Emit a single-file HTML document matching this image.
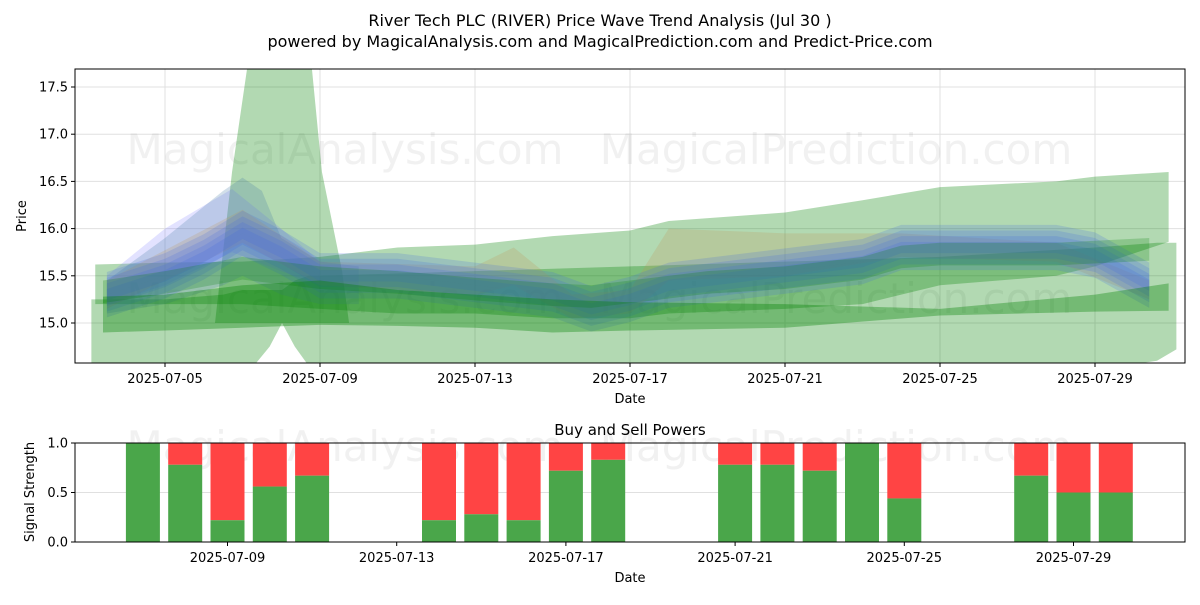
<!DOCTYPE html>
<html><head><meta charset="utf-8"><style>
body{margin:0;background:#fff;}
svg text{font-family:"DejaVu Sans","Liberation Sans",sans-serif;}
</style></head><body>
<svg id="c" width="1200" height="600" xmlns="http://www.w3.org/2000/svg">
<rect width="1200" height="600" fill="#fff"/>
<text x="600" y="26" font-size="16" text-anchor="middle">River Tech PLC (RIVER) Price Wave Trend Analysis (Jul 30 )</text>
<text x="600" y="47" font-size="16" text-anchor="middle">powered by MagicalAnalysis.com and MagicalPrediction.com and Predict-Price.com</text>
<g id="topg"></g>
<g id="botg"></g>
</svg>
<script>
const NS="http://www.w3.org/2000/svg";
// ---- top chart data ----
const priceTicks=[15.0,15.5,16.0,16.5,17.0,17.5];
const dateTickDays=[5,9,13,17,21,25,29];
const dateTickLabels=["2025-07-05","2025-07-09","2025-07-13","2025-07-17","2025-07-21","2025-07-25","2025-07-29"];
const outerDays=[3.2,5,7,9,11,13,15,17,18,21,23,24,25,28,29,30.9];
const outerHi=[15.62,15.64,15.65,15.7,15.8,15.83,15.92,15.98,16.08,16.17,16.3,16.37,16.44,16.5,16.55,16.6];
const outerLo=[15.2,15.2,15.2,15.15,15.1,15.1,15.05,15.05,15.1,15.15,15.2,15.3,15.4,15.5,15.6,15.86];
const lowerADays=[3.1,5,6.5,7.0,7.3,7.7,8.02];
const lowerAHi=[15.25,15.25,15.3,15.35,15.35,15.35,15.35];
const lowerALo=[14.3,14.35,14.4,14.45,14.55,14.75,15.0];
const lowerBDays=[8.02,8.35,8.7,9,13,17,21,25,29,30.6,31.1];
const lowerBHi=[15.35,15.45,15.5,15.5,15.55,15.6,15.65,15.7,15.8,15.85,15.85];
const lowerBLo=[15.0,14.75,14.55,14.45,14.45,14.45,14.45,14.45,14.5,14.6,14.72];
const spikeDays=[6.29,6.73,7.12,7.6,8.3,8.79,9.05,9.57,9.75];
const spikeHi=[15.0,16.6,17.7,18.0,18.0,17.7,16.6,15.55,15.0];
const spikeLo=[15.0,15.0,15.0,15.0,15.0,15.0,15.0,15.0,15.0];
const wideDays=[3.5,5,6.5,7,7.5,8,9,10];
const wideHi=[15.45,15.9,16.4,16.54,16.4,15.9,15.65,15.6];
const wideLo=[15.1,15.2,15.4,15.5,15.4,15.3,15.2,15.2];
const blueDays=[3.5,5,6,7,8,9,11,13,14,15,16,17,18,21,23,24,25,26,28,29,30.4];
const blueMid=[15.3,15.5,15.7,15.95,15.75,15.5,15.5,15.4,15.35,15.3,15.15,15.25,15.4,15.55,15.65,15.8,15.8,15.8,15.8,15.72,15.4];
const blueOffsets=[-0.12,-0.06,0,0.06,0.12];
const purpleDays=[3.5,5,6.73,8,9];
const purpleHi=[15.5,16.0,16.42,16.0,15.65];
const purpleLo=[15.2,15.4,15.75,15.55,15.4];
const tanDays=[3.5,7,9,13,14,15.5,17,18,21,24,28,30.4];
const tanHi=[15.45,16.2,15.65,15.6,15.8,15.3,15.35,16.0,15.95,15.95,15.85,15.45];
const tanLo=[15.15,15.85,15.4,15.3,15.4,15.05,15.1,15.45,15.5,15.7,15.65,15.25];
const greenDays=[3.4,5,7,9,11,13,15,16,17,19,21,23,24,25,28,30.4];
const greenMid=[15.35,15.45,15.6,15.5,15.45,15.38,15.32,15.3,15.35,15.45,15.5,15.6,15.72,15.75,15.75,15.8];
const green2Days=[3.4,5,7,9,11,13,15,17,21,25,29,30.9];
const green2Hi=[15.28,15.3,15.4,15.45,15.35,15.3,15.25,15.22,15.2,15.15,15.3,15.42];
const green2Lo=[14.9,14.92,14.95,14.98,14.97,14.95,14.9,14.92,14.95,15.08,15.12,15.13];
// ---- bottom chart data ----
const barDays=[7,8,9,10,11,14,15,16,17,18,21,22,23,24,25,28,29,30];
const buyVals=[1.0,0.78,0.22,0.56,0.67,0.22,0.28,0.22,0.72,0.83,0.78,0.78,0.72,1.0,0.44,0.67,0.5,0.5];
const sigTicks=[0.0,0.5,1.0];
const botTickDays=[9,13,17,21,25,29];

const X0=75,X1=1185,TY0=69,TY1=363;
const xDay=d=>165+(d-5)*38.75;
const yP=v=>323-(v-15)*94.4;
const xB=d=>227.5+(d-9)*42.3;
const yS=v=>542-v*99;

function el(tag,attrs,parent,text){const e=document.createElementNS(NS,tag);for(const k in attrs)e.setAttribute(k,attrs[k]);if(text!==undefined)e.textContent=text;parent.appendChild(e);return e;}
const topG=document.getElementById('topg'), botG=document.getElementById('botg');
const cp=el('clipPath',{id:'ct'},topG); el('rect',{x:X0,y:TY0,width:X1-X0,height:TY1-TY0},cp);
priceTicks.forEach(v=>{const g=el('line',{x1:X0,x2:X1,y1:yP(v),y2:yP(v),stroke:'#e0e0e0','stroke-width':1},topG);
});
dateTickDays.forEach(d=>{const g=el('line',{x1:xDay(d),x2:xDay(d),y1:TY0,y2:TY1,stroke:'#e0e0e0','stroke-width':1},topG);
});
[[345,150,'MagicalAnalysis.com'],[836,150,'MagicalPrediction.com'],[345,299,'MagicalAnalysis.com'],[836,299,'MagicalPrediction.com'],[345,447,'MagicalAnalysis.com'],[836,447,'MagicalPrediction.com']].forEach(w=>{
const t=el('text',{x:w[0],y:w[1]+14,'font-size':42,'text-anchor':'middle',fill:'#888','fill-opacity':0.12},topG,w[2]);
});
const bands=el('g',{'clip-path':'url(#ct)'},topG);
function band(days,hi,lo,color,op,name){
 let p=days.map((d,i)=>xDay(d)+','+yP(hi[i]));
 for(let i=days.length-1;i>=0;i--)p.push(xDay(days[i])+','+yP(lo[i]));
 const e=el('polygon',{points:p.join(' '),fill:color,'fill-opacity':op,'stroke-linejoin':'round'},bands);
 }
band(outerDays,outerHi,outerLo,'#008000',0.3,'outer-range-band');
band(lowerADays,lowerAHi,lowerALo,'#008000',0.3,'lower-range-band-left');
band(lowerBDays,lowerBHi,lowerBLo,'#008000',0.3,'lower-range-band-right');
band(spikeDays,spikeHi,spikeLo,'#008000',0.3,'spike-band');
band(purpleDays,purpleHi,purpleLo,'#7070ff',0.2,'purple-wave-band');
band(wideDays,wideHi,wideLo,'#4a7fa8',0.25,'wide-wave-band');
band(tanDays,tanHi,tanLo,'#c09050',0.22,'tan-wave-band');
blueOffsets.forEach(o=>band(blueDays,blueMid.map(v=>v+o+0.12),blueMid.map(v=>v+o-0.12),'#4169e1',0.2,'blue-wave-band'));
band(greenDays,greenMid.map(v=>v+0.1),greenMid.map(v=>v-0.14),'#008000',0.22,'green-wave-band');
band(green2Days,green2Hi,green2Lo,'#008000',0.35,'lower-green-band');
el('rect',{x:X0,y:TY0,width:X1-X0,height:TY1-TY0,fill:'none',stroke:'#000','stroke-width':1},topG);
priceTicks.forEach(v=>{el('line',{x1:X0-4,x2:X0,y1:yP(v),y2:yP(v),stroke:'#000'},topG);
const t=el('text',{x:X0-7,y:yP(v)+4.5,'font-size':13,'text-anchor':'end'},topG,v.toFixed(1));
});
dateTickDays.forEach((d,i)=>{el('line',{x1:xDay(d),x2:xDay(d),y1:TY1,y2:TY1+4,stroke:'#000'},topG);
const t=el('text',{x:xDay(d),y:TY1+20,'font-size':13,'text-anchor':'middle'},topG,dateTickLabels[i]);
});
let tt=el('text',{x:630,y:403,'font-size':13,'text-anchor':'middle'},topG,'Date');
tt=el('text',{x:26,y:216,'font-size':13,'text-anchor':'middle',transform:'rotate(-90 26 216)'},topG,'Price');

// bottom
const BY0=443,BY1=542;
sigTicks.forEach(v=>{const g=el('line',{x1:X0,x2:X1,y1:yS(v),y2:yS(v),stroke:'#e0e0e0'},botG);});
barDays.forEach((d,i)=>{const x=xB(d)-17;
const r=el('rect',{x:x,y:yS(1),width:34,height:yS(buyVals[i])-yS(1),fill:'#ff4444'},botG);

const g=el('rect',{x:x,y:yS(buyVals[i]),width:34,height:yS(0)-yS(buyVals[i]),fill:'#4aa64a'},botG);
});
el('rect',{x:X0,y:BY0,width:X1-X0,height:BY1-BY0,fill:'none',stroke:'#000'},botG);
sigTicks.forEach(v=>{el('line',{x1:X0-4,x2:X0,y1:yS(v),y2:yS(v),stroke:'#000'},botG);
const t=el('text',{x:X0-7,y:yS(v)+4.5,'font-size':13,'text-anchor':'end'},botG,v.toFixed(1));
});
botTickDays.forEach(d=>{const x=xB(d);el('line',{x1:x,x2:x,y1:BY1,y2:BY1+4,stroke:'#000'},botG);
const t=el('text',{x:x,y:BY1+20,'font-size':13,'text-anchor':'middle'},botG,dateTickLabels[dateTickDays.indexOf(d)]);
});
tt=el('text',{x:630,y:435,'font-size':15,'text-anchor':'middle'},botG,'Buy and Sell Powers');
tt=el('text',{x:630,y:582,'font-size':13,'text-anchor':'middle'},botG,'Date');
tt=el('text',{x:34,y:492,'font-size':13,'text-anchor':'middle',transform:'rotate(-90 34 492)'},botG,'Signal Strength');
</script>
</body></html>
